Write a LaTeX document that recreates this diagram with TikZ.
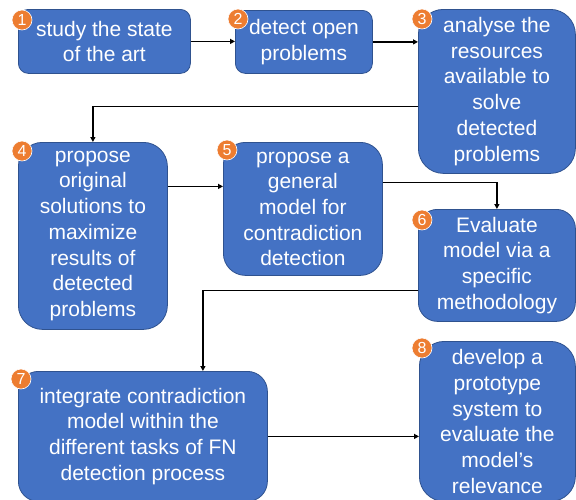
\documentclass[tikz,border=0pt]{standalone}
\usepackage{fontspec}
\setmainfont{Liberation Sans}
\usetikzlibrary{arrows.meta,calc}
\definecolor{boxblue}{HTML}{4472C4}
\definecolor{boxedge}{HTML}{2F528F}
\definecolor{badgeorange}{HTML}{ED7D31}
\tikzset{
  stepbox/.style={fill=boxblue, draw=boxedge, line width=0.8pt, text=white,
    font=\fontsize{21}{25.7}\selectfont, align=center, inner sep=0pt,
    anchor=north west},
  badge/.style={circle, fill=badgeorange, draw=white, line width=0.6pt,
    text=white, font=\fontsize{16}{16}\selectfont, inner sep=0pt,
    minimum size=20pt},
  arr/.style={line width=1.6pt, -{Triangle[length=5pt,width=5pt]}}
}
\begin{document}
\begin{tikzpicture}[x=1pt,y=-1pt]
\useasboundingbox (0,0) rectangle (576,499);
\begin{scope}
\clip (0,0) rectangle (576,499);
\node[stepbox, minimum width=172pt, minimum height=64pt, rounded corners=10pt] (b1) at (18,9) {study the state\\of the art};
\node[stepbox, minimum width=137pt, minimum height=63pt, rounded corners=10pt] (b2) at (235,10) {detect open\\problems};
\node[stepbox, minimum width=157pt, minimum height=164pt, rounded corners=25pt] (b3) at (418,9) {analyse the\\resources\\available to\\solve\\detected\\problems};
\node[stepbox, minimum width=149pt, minimum height=187pt, rounded corners=24pt] (b4) at (18,142) {propose\\original\\solutions to\\maximize\\results of\\detected\\problems};
\node[stepbox, minimum width=159pt, minimum height=133pt, rounded corners=22pt] (b5) at (223,142) {propose a\\general\\model for\\contradiction\\detection};
\node[stepbox, minimum width=157pt, minimum height=112pt, rounded corners=19pt] (b6) at (418,209) {Evaluate\\model via a\\specific\\methodology};
\node[stepbox, minimum width=249pt, minimum height=130pt, rounded corners=20pt] (b7) at (18,371) {integrate contradiction\\model within the\\different tasks of FN\\detection process};
\node[stepbox, minimum width=156pt, minimum height=160pt, rounded corners=25pt] (b8) at (419,341) {develop a\\prototype\\system to\\evaluate the\\model’s\\relevance};

\node[badge] (n1) at (22,20) {1};
\node[badge] (n2) at (238,19) {2};
\node[badge] (n3) at (422,19) {3};
\node[badge] (n4) at (22,151) {4};
\node[badge] (n5) at (227,150) {5};
\node[badge] (n6) at (422,220) {6};
\node[badge] (n7) at (21,379) {7};
\node[badge] (n8) at (422,348) {8};

\coordinate (c67) at ([xshift=60pt]b7.north);

\draw[arr] (b1.east) -- (b1.east -| b2.west);
\draw[arr] (b2.east) -- (b2.east -| b3.west);
\draw[arr] ([yshift=-15pt]b3.west) -| (b4.north);
\draw[arr] ([yshift=49.5pt]b4.east) -- ([yshift=49.5pt]b4.east -| b5.west);
\draw[arr] ([yshift=26.5pt]b5.east) -| (b6.north);
\draw[arr] ([yshift=-25pt]b6.west) -| (c67);
\draw[arr] (b7.east) -- (b7.east -| b8.west);
\end{scope}
\end{tikzpicture}
\end{document}
